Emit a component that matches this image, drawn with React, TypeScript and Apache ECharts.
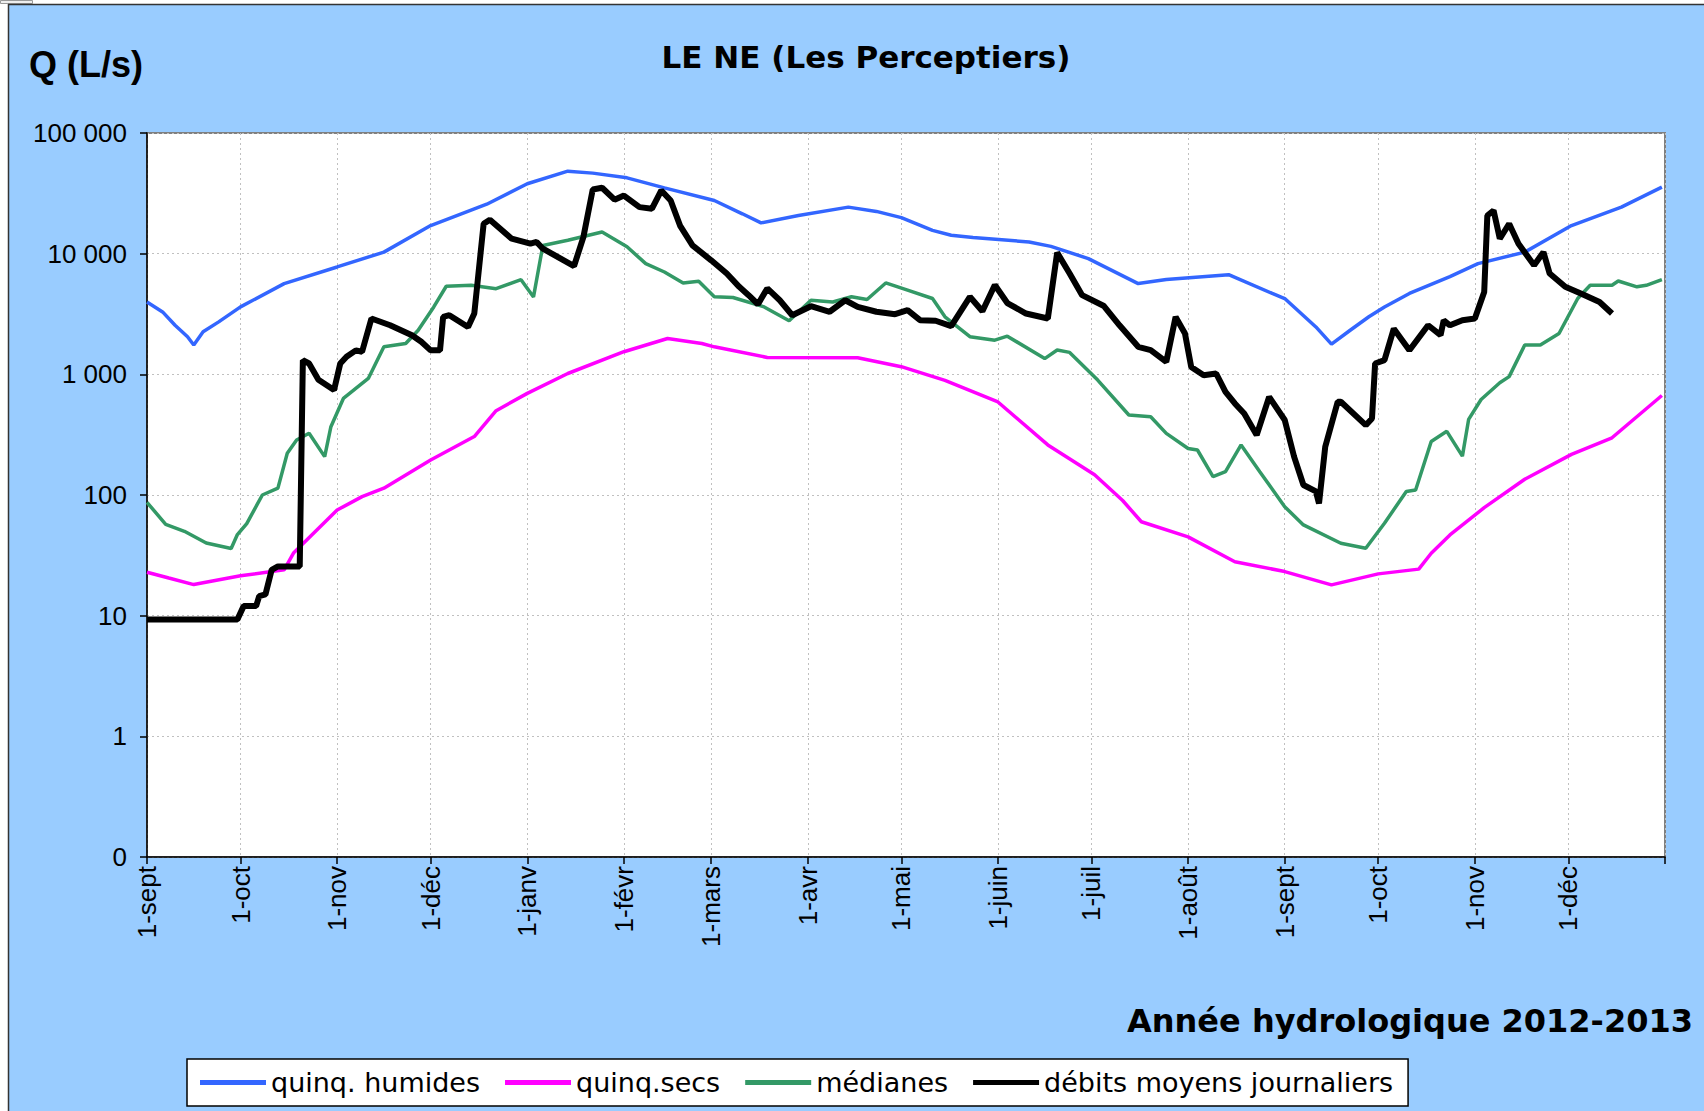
import React, { useEffect, useRef } from "react";
import * as echarts from "echarts";

// ---- Axis categories: one per day from 1 Sept 2012 to 1 Jan 2014 ----
const START_UTC = Date.UTC(2012, 8, 1);
const DAY_COUNT = 488;
const MONTH_LABELS = ["janv", "févr", "mars", "avr", "mai", "juin", "juil", "août", "sept", "oct", "nov", "déc"];
const DAYS: string[] = Array.from({ length: DAY_COUNT }, (_, i) =>
  new Date(START_UTC + i * 86400000).toISOString().slice(0, 10)
);

const TITLE = "LE NE (Les Perceptiers)";
const Y_NAME = "Q (L/s)";
const SUBTITLE = "Année hydrologique 2012-2013";

// ---- Series: [day offset from 1 Sept 2012, Q in L/s] ----
const QUINQ_HUMIDES: [number, number][] = [
  [0, 3980], [5, 3290], [9, 2550], [13, 2050], [15, 1750], [18, 2250], [23, 2720], [30, 3620],
  [44, 5650], [61, 7760], [76, 10300], [91, 17100], [109, 25700], [122, 38000], [135, 48300],
  [143, 46500], [154, 42500], [166, 35100], [182, 27600], [191, 21400], [197, 18000], [209, 20700],
  [225, 24300], [234, 22400], [242, 19900], [252, 15600], [258, 14200], [265, 13600], [283, 12500],
  [290, 11500], [302, 9100], [318, 5650], [327, 6100], [347, 6700], [361, 4680], [365, 4250],
  [375, 2470], [380, 1780], [386, 2320], [392, 3000], [397, 3620], [405, 4680], [418, 6460],
  [427, 8270], [442, 10300], [457, 17100], [473, 24300], [486, 35600],
];

const QUINQ_SECS: [number, number][] = [
  [0, 22.9], [7, 20.5], [15, 18.1], [30, 21.4], [44, 24], [47, 33], [61, 75], [69, 97], [76, 114],
  [91, 195], [105, 305], [112, 500], [122, 695], [135, 1016], [153, 1540], [167, 1980], [178, 1800],
  [182, 1690], [199, 1380], [228, 1373], [242, 1157], [256, 890], [273, 590], [289, 260], [304, 147],
  [313, 90], [319, 60], [334, 45], [349, 28], [365, 23.2], [380, 18], [395, 22.2], [408, 24.3],
  [412, 32.9], [418, 46.7], [429, 78.5], [442, 135], [457, 217], [470, 298], [486, 668],
];

const MEDIANES: [number, number][] = [
  [0, 87], [6, 57], [12, 50], [19, 40], [27, 36], [29, 47], [32, 58], [37, 100], [42, 114], [45, 222],
  [48, 286], [52, 325], [57, 208], [59, 368], [63, 631], [71, 924], [76, 1690], [83, 1800], [87, 2320],
  [92, 3620], [96, 5370], [104, 5470], [112, 5130], [120, 6090], [124, 4380], [127, 11700], [135, 12900],
  [146, 15100], [154, 11400], [160, 8270], [166, 7050], [172, 5720], [177, 5910], [182, 4390], [188, 4330],
  [198, 3620], [206, 2780], [213, 4110], [220, 3980], [226, 4390], [231, 4170], [237, 5720], [244, 4980],
  [252, 4250], [256, 3000], [264, 2050], [272, 1920], [276, 2070], [288, 1350], [292, 1590], [296, 1520],
  [305, 896], [315, 460], [322, 445], [327, 324], [334, 243], [337, 236], [342, 142], [346, 156],
  [351, 260], [357, 156], [365, 80], [371, 56.5], [383, 39.8], [391, 36.2], [397, 58.3], [404, 107],
  [407, 110], [412, 278], [417, 337], [422, 210], [424, 423], [428, 619], [434, 851], [437, 957],
  [442, 1750], [447, 1750], [453, 2180], [459, 4250], [463, 5470], [470, 5470], [472, 5940], [478, 5310],
  [481, 5470], [486, 6090],
];

const DEBITS: [number, number][] = [
  [0, 9.3], [29, 9.3], [31, 12], [35, 12], [36, 14.5], [38, 15], [40, 24], [42, 25.6], [49, 25.6],
  [50, 1310], [52, 1230], [55, 900], [60, 740], [62, 1230], [64, 1400], [67, 1580], [69, 1540],
  [72, 2900], [78, 2550], [85, 2110], [88, 1860], [91, 1580], [94, 1580], [95, 2990], [97, 3090],
  [103, 2470], [105, 3190], [108, 17700], [110, 19100], [117, 13300], [123, 12100], [125, 12500],
  [127, 11000], [137, 7900], [140, 13700], [143, 34000], [146, 35200], [150, 28000], [153, 30300],
  [158, 24300], [162, 23600], [165, 33400], [168, 27600], [171, 17100], [175, 11700], [181, 8810],
  [186, 6840], [190, 5310], [193, 4530], [196, 3810], [199, 5150], [203, 4110], [207, 3090],
  [213, 3670], [219, 3300], [224, 4110], [228, 3620], [234, 3300], [240, 3150], [244, 3400],
  [248, 2810], [253, 2780], [258, 2510], [264, 4390], [268, 3330], [272, 5500], [276, 3900],
  [282, 3190], [289, 2900], [292, 10200], [296, 6840], [300, 4530], [307, 3680], [312, 2550],
  [318, 1690], [322, 1590], [327, 1270], [330, 2990], [333, 2180], [335, 1150], [339, 984],
  [343, 1016], [346, 716], [349, 574], [352, 474], [356, 314], [360, 651], [365, 418], [368, 208],
  [371, 121], [375, 107], [376, 85], [378, 251], [382, 592], [383, 592], [391, 379], [393, 431],
  [394, 1230], [397, 1310], [400, 2390], [405, 1585], [411, 2550], [415, 2110], [416, 2800],
  [418, 2550], [422, 2810], [426, 2900], [429, 4820], [430, 20700], [432, 22800], [434, 13300],
  [437, 17700], [440, 12100], [445, 8010], [448, 10300], [450, 6840], [455, 5310], [460, 4680],
  [466, 3980], [470, 3190],
];

const SERIES_DEF = [
  { name: "quinq. humides", data: QUINQ_HUMIDES, color: "#3366FF", width: 3.5, z: 3 },
  { name: "quinq.secs", data: QUINQ_SECS, color: "#FF00FF", width: 3.5, z: 4 },
  { name: "médianes", data: MEDIANES, color: "#339966", width: 3.5, z: 5 },
  { name: "débits moyens journaliers", data: DEBITS, color: "#000000", width: 6, z: 6 },
];

const isMonthStart = (_i: number, v: string) => v.endsWith("-01");
const isLabelled = (i: number, v: string) => v.endsWith("-01") && i < DAY_COUNT - 1;

const fmtDay = (v: string) => {
  const m = parseInt(v.slice(5, 7), 10) - 1;
  const d = parseInt(v.slice(8, 10), 10);
  return `${d}-${MONTH_LABELS[m]}`;
};
const fmtQ = (v: number) =>
  v < 1 ? "0" : String(Math.round(v)).replace(/\B(?=(\d{3})+(?!\d))/g, " ");

export default function App() {
  const ref = useRef<HTMLDivElement>(null);
  useEffect(() => {
    if (!ref.current) return;
    const chart = echarts.init(ref.current, undefined, { renderer: "svg" });
    const option: any = {
      animation: false,
      backgroundColor: "#99CCFF",
      textStyle: { fontFamily: "Liberation Sans, Arial, sans-serif" },
      grid: {
        left: 147, right: 39, top: 133, bottom: 254,
        show: true, backgroundColor: "#ffffff", borderColor: "#808080", borderWidth: 2,
        containLabel: false, outerBoundsMode: "none",
      },
      xAxis: {
        type: "category",
        data: DAYS,
        boundaryGap: false,
        axisLine: { show: true, lineStyle: { color: "#000", width: 1.5 } },
        axisTick: { show: true, interval: isMonthStart, length: 7, lineStyle: { color: "#000", width: 1.5 } },
        axisLabel: {
          interval: isLabelled, rotate: 90, formatter: fmtDay, fontSize: 26, color: "#000",
          margin: 9, fontFamily: "Liberation Sans, Arial, sans-serif",
        },
        splitLine: { show: true, interval: isMonthStart, lineStyle: { color: "#c0c0c0", type: [2, 3], width: 1 } },
      },
      yAxis: {
        type: "log",
        logBase: 10,
        min: 0.1,
        max: 100000,
        splitNumber: 6,
        axisLine: { show: true, lineStyle: { color: "#000", width: 1.5 } },
        axisTick: { show: true, length: 7, lineStyle: { color: "#000", width: 1.5 } },
        axisLabel: { formatter: fmtQ, fontSize: 26, color: "#000", margin: 20, fontFamily: "Liberation Sans, Arial, sans-serif" },
        splitLine: { show: true, lineStyle: { color: "#c0c0c0", type: [2, 3], width: 1 } },
        minorTick: { show: false },
        minorSplitLine: { show: false },
      },
      legend: {
        left: 187,
        top: 1059,
        orient: "horizontal",
        backgroundColor: "#ffffff",
        borderColor: "#000",
        borderWidth: 1.5,
        padding: [10, 15, 10, 13],
        itemWidth: 66,
        itemHeight: 5,
        itemGap: 25,
        textStyle: { fontFamily: "DejaVu Sans", fontSize: 27, color: "#000" },
        data: SERIES_DEF.map((s) => ({ name: s.name, icon: "rect" })),
      },
      graphic: [
        { type: "rect", shape: { x: 0, y: 0, width: 1704, height: 4 }, style: { fill: "#ffffff" }, silent: true },
        { type: "rect", shape: { x: 0, y: 0, width: 8, height: 1111 }, style: { fill: "#ffffff" }, silent: true },
        { type: "rect", shape: { x: 0.5, y: 0.5, width: 32, height: 3 }, style: { fill: "#eeeeee", stroke: "#999", lineWidth: 1 }, silent: true },
        { type: "line", shape: { x1: 8, y1: 4.5, x2: 1704, y2: 4.5 }, style: { stroke: "#333", lineWidth: 1.5 }, silent: true },
        { type: "line", shape: { x1: 8.5, y1: 4, x2: 8.5, y2: 1111 }, style: { stroke: "#333", lineWidth: 1.5 }, silent: true },
        {
          type: "text", x: 29, y: 64,
          style: {
            text: Y_NAME, fill: "#000", fontSize: 36, fontWeight: "bold", fontFamily: "Liberation Sans, Arial, sans-serif",
            align: "left", verticalAlign: "middle", textAlign: "left", textVerticalAlign: "middle",
          },
        },
        {
          type: "text", x: 866, y: 57,
          style: {
            text: TITLE, fill: "#000", fontSize: 31, fontWeight: "bold", fontFamily: "DejaVu Sans",
            align: "center", verticalAlign: "middle", textAlign: "center", textVerticalAlign: "middle",
          },
        },
        {
          type: "text", x: 1127, y: 1021,
          style: {
            text: SUBTITLE, fill: "#000", fontSize: 32, fontWeight: "bold", fontFamily: "DejaVu Sans",
            align: "left", verticalAlign: "middle", textAlign: "left", textVerticalAlign: "middle",
          },
        },
      ],
      series: SERIES_DEF.map((s) => ({
        name: s.name,
        type: "line",
        data: s.data,
        showSymbol: false,
        symbol: "none",
        z: s.z,
        lineStyle: { color: s.color, width: s.width },
        itemStyle: { color: s.color },
        emphasis: { disabled: true },
      })),
    };
    chart.setOption(option);
    return () => chart.dispose();
  }, []);
  return <div ref={ref} style={{ position: "absolute", left: 0, top: 0, width: 1704, height: 1111 }} />;
}
